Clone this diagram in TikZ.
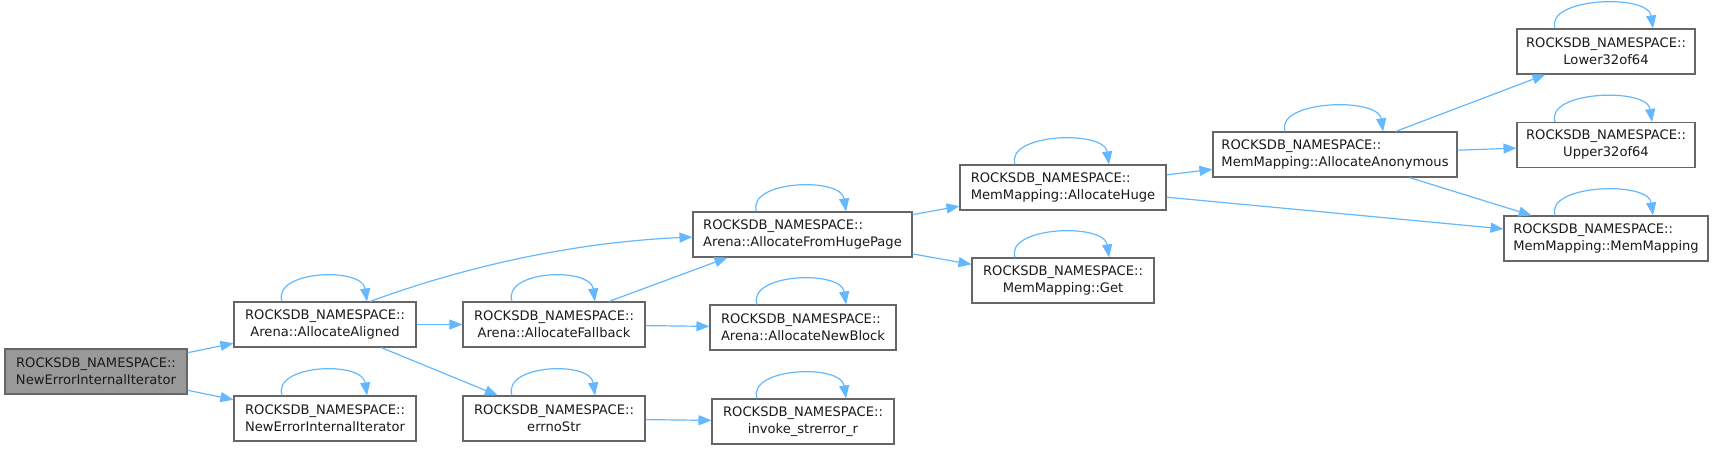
\documentclass[tikz,border=0pt]{standalone}
\usepackage{fontspec}
\setmainfont{DejaVu Sans}
\usetikzlibrary{arrows.meta}
\definecolor{edgec}{HTML}{63B8FF}
\definecolor{bord}{HTML}{666666}
\definecolor{rootfill}{HTML}{999999}
\definecolor{txt}{HTML}{1A1A1A}
\tikzset{
  box/.style={draw=bord, line width=1.1pt, fill=white, minimum height=45pt, text=txt,
    inner xsep=0pt, inner ysep=0pt, font=\fontsize{13.1}{17}\selectfont, align=center},
  leftbox/.style={box, align=left},
  edge/.style={draw=edgec, line width=1.2pt, -{Triangle[length=13pt,width=10pt]}}
}
\newcommand\myloop[3]{\draw[edge] ([xshift=#2pt]#1.north) .. controls +(-10,-31) and +(-5,-35) .. ([xshift=#3pt]#1.north);}
\begin{document}
\begin{tikzpicture}[x=1pt,y=-1pt]
\useasboundingbox (0,0) rectangle (1723,449);
\node[box, fill=rootfill, minimum width=182pt] (root) at (96,371.5) {ROCKSDB\_NAMESPACE::\\NewErrorInternalIterator};
\node[box, minimum width=182pt] (aa) at (325,324.5) {ROCKSDB\_NAMESPACE::\\Arena::AllocateAligned};
\node[box, minimum width=182pt] (ne2) at (325,418.5) {ROCKSDB\_NAMESPACE::\\NewErrorInternalIterator};
\node[box, minimum width=182pt] (af) at (554,324.5) {ROCKSDB\_NAMESPACE::\\Arena::AllocateFallback};
\node[box, minimum width=182pt] (es) at (554,418.5) {ROCKSDB\_NAMESPACE::\\errnoStr};
\node[leftbox, minimum width=219pt] (fhp) at (802.5,234.5) {ROCKSDB\_NAMESPACE::\\Arena::AllocateFromHugePage};
\node[leftbox, minimum width=186pt] (anb) at (803,327.5) {ROCKSDB\_NAMESPACE::\\Arena::AllocateNewBlock};
\node[box, minimum width=182pt] (isr) at (803,421.5) {ROCKSDB\_NAMESPACE::\\invoke\_strerror\_r};
\node[leftbox, minimum width=206pt] (ah) at (1063,187.5) {ROCKSDB\_NAMESPACE::\\MemMapping::AllocateHuge};
\node[box, minimum width=182pt] (get) at (1063,280.5) {ROCKSDB\_NAMESPACE::\\MemMapping::Get};
\node[leftbox, minimum width=244pt] (aan) at (1335,154.5) {ROCKSDB\_NAMESPACE::\\MemMapping::AllocateAnonymous};
\node[box, minimum width=178pt] (lo) at (1606,51.5) {ROCKSDB\_NAMESPACE::\\Lower32of64};
\node[box, minimum width=178pt] (up) at (1606,145) {ROCKSDB\_NAMESPACE::\\Upper32of64};
\node[leftbox, minimum width=204pt] (mm) at (1606,238.5) {ROCKSDB\_NAMESPACE::\\MemMapping::MemMapping};

\draw[edge] (root) -- (aa);
\draw[edge] (root) -- (ne2);
\draw[edge] ([xshift=45pt]aa.north) .. controls (450,272) and (560,243) .. ([yshift=-2.5pt]fhp.west);
\draw[edge] (aa) -- (af);
\draw[edge] (aa) -- (es);
\draw[edge] ([xshift=55pt]af.north) -- ([xshift=-75pt]fhp.south);
\draw[edge] (af) -- (anb);
\draw[edge] (es) -- (isr);
\draw[edge] (fhp) -- (ah);
\draw[edge] (fhp) -- (get);
\draw[edge] (ah) -- (aan);
\draw[edge] (ah) -- (mm);
\draw[edge] (aan) -- (lo);
\draw[edge] (aan) -- (up);
\draw[edge] (aan) -- (mm);

\myloop{aa}{-43}{42}
\myloop{ne2}{-43}{42}
\myloop{af}{-42}{41}
\myloop{es}{-42}{41}
\myloop{fhp}{-46}{43.5}
\myloop{anb}{-46}{43}
\myloop{isr}{-46}{43}
\myloop{ah}{-48}{46}
\myloop{get}{-48}{46}
\myloop{aan}{-50}{48}
\myloop{lo}{-51}{47}
\myloop{up}{-51}{46}
\myloop{mm}{-51}{47}
\end{tikzpicture}
\end{document}
